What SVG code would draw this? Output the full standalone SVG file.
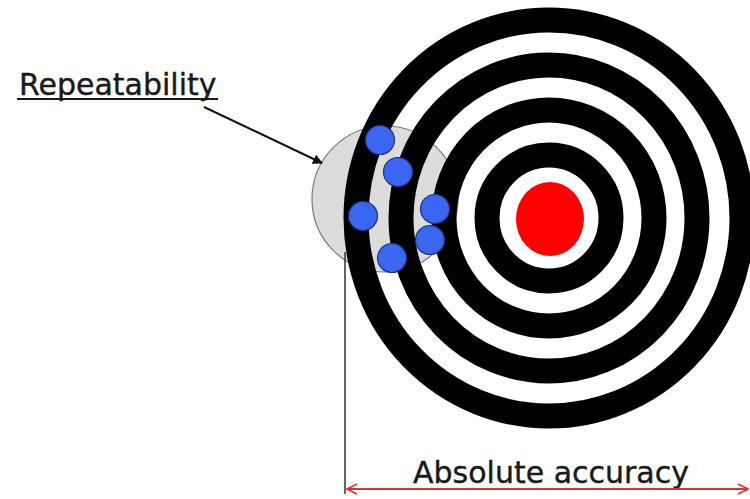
<svg xmlns="http://www.w3.org/2000/svg" width="750" height="499" viewBox="0 0 750 499">
<style>
.ring{fill:none;stroke:#000;stroke-width:25}
.dot{fill:#3a66f2;stroke:#1d3380;stroke-width:1.2}
.lbl{font-family:"DejaVu Sans",Verdana,sans-serif;font-size:30px;fill:#1a1a1a;stroke:#1a1a1a;stroke-width:0.4}
</style>
<defs>
<marker id="ah" viewBox="0 0 10 10" refX="9" refY="5" markerWidth="10" markerHeight="10" markerUnits="userSpaceOnUse" orient="auto">
<path d="M0,0 L10,5 L0,10 z" fill="#111"/>
</marker>
<marker id="rh" viewBox="0 0 12 12" refX="11" refY="6" markerWidth="12" markerHeight="12" markerUnits="userSpaceOnUse" orient="auto-start-reverse">
<path d="M1,1 L11,6 L1,11" fill="none" stroke="#e03030" stroke-width="1.6"/>
</marker>
</defs>
<rect width="750" height="499" fill="#fff"/>
<g id="repeat-zone">
<circle cx="385" cy="199" r="73" fill="#dcdcdc" stroke="#7a7a7a" stroke-width="1.2"/>
</g>
<g id="target">
<ellipse class="ring" cx="549" cy="218" rx="193" ry="198"/>
<ellipse class="ring" cx="549" cy="218" rx="148" ry="153"/>
<ellipse class="ring" cx="549" cy="218" rx="105" ry="108"/>
<ellipse class="ring" cx="549" cy="218" rx="62" ry="63"/>
<ellipse cx="550" cy="219" rx="34" ry="37" fill="#ff0000"/>
</g>
<g id="hits">
<circle class="dot" cx="380" cy="140" r="14.5"/>
<circle class="dot" cx="398" cy="172" r="14.5"/>
<circle class="dot" cx="363" cy="216" r="14.5"/>
<circle class="dot" cx="435" cy="209" r="14.5"/>
<circle class="dot" cx="430" cy="240" r="14.5"/>
<circle class="dot" cx="392" cy="258" r="14.5"/>
</g>
<g id="repeatability-label">
<text class="lbl" x="19" y="95">Repeatability</text>
<line x1="17" y1="99" x2="218" y2="99" stroke="#1a1a1a" stroke-width="2"/>
</g>
<g id="accuracy-label">
<text class="lbl" x="413" y="483">Absolute accuracy</text>
</g>
<g id="connectors">
<line x1="204" y1="107" x2="322" y2="163" stroke="#111" stroke-width="2" marker-end="url(#ah)"/>
<line x1="345" y1="252" x2="345" y2="494" stroke="#333" stroke-width="1.5"/>
<line x1="347" y1="489" x2="748" y2="489" stroke="#e03030" stroke-width="2" marker-start="url(#rh)" marker-end="url(#rh)"/>
</g>
</svg>
